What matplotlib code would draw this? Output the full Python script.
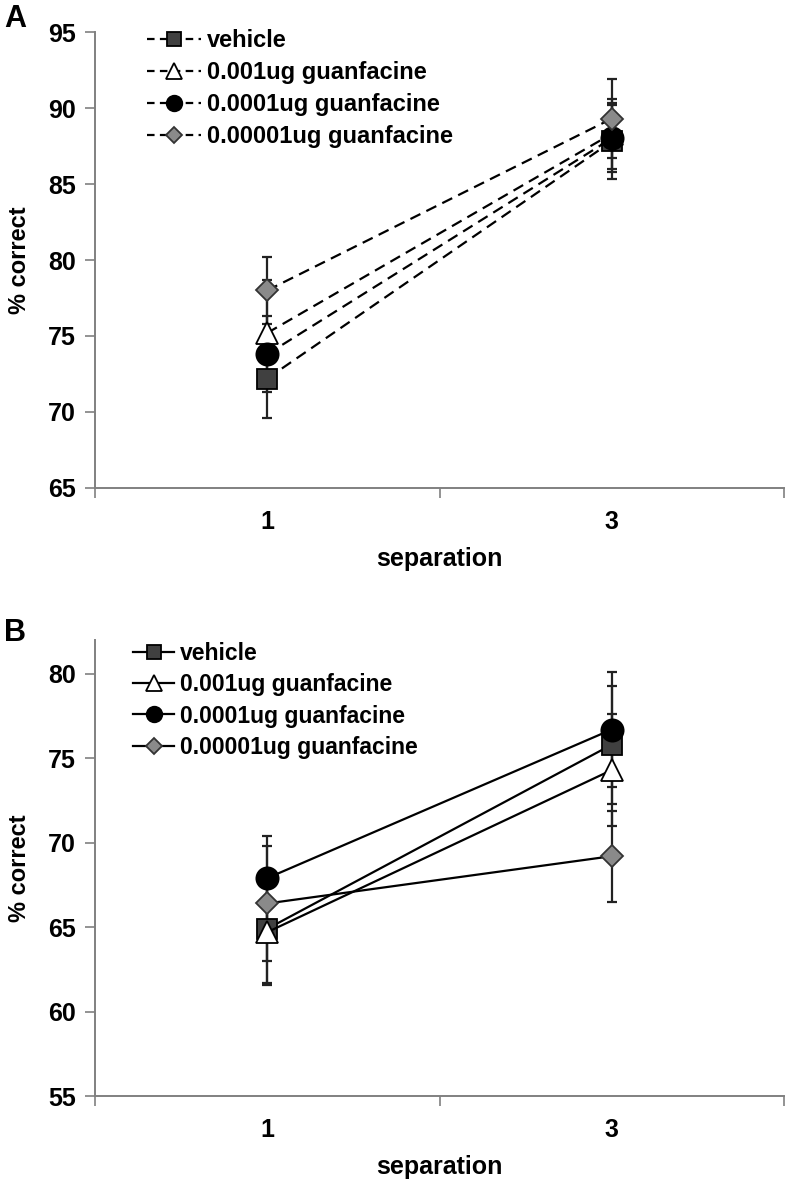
import matplotlib
matplotlib.use("Agg")
import matplotlib.pyplot as plt
from matplotlib.ticker import FixedLocator

categories = ["1", "3"]
series = ["vehicle", "0.001ug guanfacine", "0.0001ug guanfacine", "0.00001ug guanfacine"]

A_vehicle = [72.2, 87.8]
A_g001 = [75.2, 88.3]
A_g0001 = [73.8, 88.0]
A_g00001 = [78.0, 89.3]
A_err_vehicle = [2.6, 2.5]
A_err_g001 = [3.5, 2.3]
A_err_g0001 = [2.5, 2.2]
A_err_g00001 = [2.2, 2.6]

B_vehicle = [64.9, 75.8]
B_g001 = [64.7, 74.3]
B_g0001 = [67.9, 76.7]
B_g00001 = [66.4, 69.2]
B_err_vehicle = [3.2, 3.5]
B_err_g001 = [3.1, 3.3]
B_err_g0001 = [2.5, 3.4]
B_err_g00001 = [3.4, 2.7]

A_yticks = [65, 70, 75, 80, 85, 90, 95]
B_yticks = [55, 60, 65, 70, 75, 80]

styles = [
    dict(marker="s", mfc="#404040", mec="black", ms=15),
    dict(marker="^", mfc="white", mec="black", ms=16),
    dict(marker="o", mfc="black", mec="black", ms=16),
    dict(marker="D", mfc="#8a8a8a", mec="#333333", ms=11.5),
]

plt.rcParams["font.family"] = ["Liberation Sans", "DejaVu Sans"]
AX_FONT = ["Liberation Sans", "DejaVu Sans"]

W, H = 788, 1179
fig = plt.figure(figsize=(W / 100, H / 100), dpi=100)

def px_axes(left, top, right, bottom):
    return fig.add_axes([left / W, 1 - bottom / H, (right - left) / W, (bottom - top) / H])

def draw_panel(ax, means, errs, ylim, yticks, ls, leg_anchor, handlelen, legsize, legspace):
    x = list(range(len(categories)))
    lines = []
    for i, (m, e) in enumerate(zip(means, errs)):
        ax.errorbar(x, m, yerr=e, fmt="none", ecolor="#222222", elinewidth=1.6,
                    capsize=3.6, capthick=1.6, zorder=2 + i * 0.1)
        ln, = ax.plot(x, m, color="black", lw=1.6, ls=ls, zorder=3 + i * 0.1,
                      markeredgewidth=1.3, label=series[i], **styles[i])
        if ls == "--":
            ln.set_dashes((5.0, 3.0))
        lines.append(ln)
    ax.set_xlim(-0.5, len(categories) - 0.5)
    ax.set_ylim(*ylim)
    ax.set_yticks(yticks)
    ax.set_yticklabels([str(t) for t in yticks])
    ax.set_xticks(x)
    ax.set_xticklabels(categories)
    ax.xaxis.set_minor_locator(FixedLocator([-0.5, 0.5, 1.5]))
    ax.tick_params(axis="x", which="major", length=0, pad=16)
    ax.tick_params(axis="x", which="minor", length=7, width=1.2, color="#808080", direction="out")
    ax.tick_params(axis="y", length=7, width=1.2, color="#808080", direction="out", pad=7)
    for lab in ax.get_xticklabels() + ax.get_yticklabels():
        lab.set_fontfamily(AX_FONT)
        lab.set_fontweight("bold")
        lab.set_fontsize(18)
    for s in ["top", "right"]:
        ax.spines[s].set_visible(False)
    for s in ["left", "bottom"]:
        ax.spines[s].set_color("#808080")
        ax.spines[s].set_linewidth(1.4)
    ax.set_xlabel("separation", fontsize=18, fontweight="bold", family=AX_FONT, labelpad=9)
    ax.set_ylabel("% correct", fontsize=17, fontweight="bold", family=AX_FONT, labelpad=12)
    leg = ax.legend(handles=lines, loc="upper left", bbox_to_anchor=leg_anchor,
                    bbox_transform=fig.transFigure, frameon=False, fontsize=legsize,
                    markerscale=0.7, handlelength=handlelen, handletextpad=0.25,
                    labelspacing=legspace, borderpad=0, borderaxespad=0)
    for t in leg.get_texts():
        t.set_fontweight("bold")
    if ls == "--":
        for hl in leg.get_lines():
            hl.set_dashes((3.4, 2.4))
    return ax

axA = px_axes(95, 32, 784, 488)
draw_panel(axA, [A_vehicle, A_g001, A_g0001, A_g00001],
           [A_err_vehicle, A_err_g001, A_err_g0001, A_err_g00001],
           (65, 95), A_yticks, "--", (147 / W, 1 - 29 / H), 2.3, 17, 0.38)

axB = px_axes(95, 640, 784, 1096)
draw_panel(axB, [B_vehicle, B_g001, B_g0001, B_g00001],
           [B_err_vehicle, B_err_g001, B_err_g0001, B_err_g00001],
           (55, 82), B_yticks, "-", (133 / W, 1 - 642 / H), 1.8, 16.5, 0.36)

fig.text(4 / W, 1 - 4 / H, "A", fontsize=22, fontweight="bold", va="top", ha="left")
fig.text(4 / W, 1 - 618 / H, "B", fontsize=22, fontweight="bold", va="top", ha="left")

fig.savefig("out.png", dpi=100)
